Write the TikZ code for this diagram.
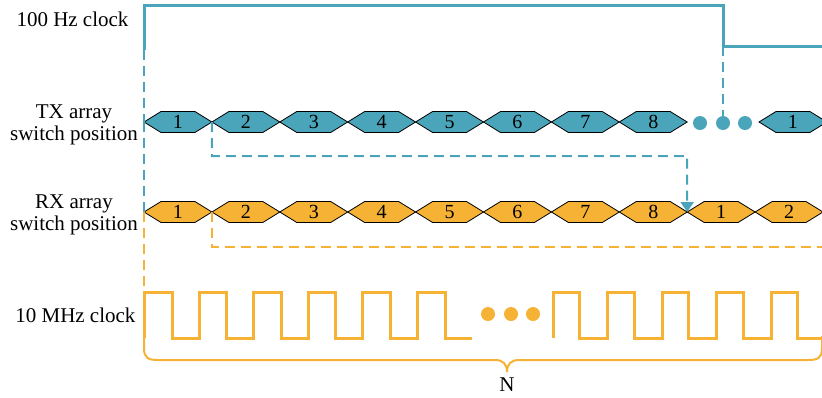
\documentclass[tikz,border=0pt]{standalone}
\usepackage{fontspec}
\setmainfont{Liberation Serif}
\usetikzlibrary{arrows.meta}

\definecolor{txblue}{RGB}{74,165,186}
\definecolor{rxorange}{RGB}{245,178,52}

\tikzset{
  sig/.style={line width=3pt, line join=miter},
  hexbox/.style={draw=black, line width=0.8pt},
  trace/.style={line width=2pt, dash pattern=on 10pt off 6pt},
  rowlabel/.style={font=\fontsize{21}{22}\selectfont, align=center},
  digit/.style={font=\fontsize{20}{24}\selectfont, inner sep=0pt}
}

\begin{document}
\begin{tikzpicture}[x=1pt, y=-1pt]
  \useasboundingbox (0, 0) rectangle (822, 397);

  % Row labels
  \node[rowlabel, anchor=east] (lclkslow) at (132, 19) {100 Hz clock};
  \node[rowlabel] (ltx) at (74, 124.5) {TX array\\switch position};
  \node[rowlabel] (lrx) at (74, 214.5) {RX array\\switch position};
  \node[rowlabel, anchor=east] (lclkfast) at (139, 315) {10 MHz clock};

  % 100 Hz clock
  \draw[sig, txblue] (144, 50) -- (144, 5) -- (723, 5) -- (723, 46) -- (822, 46);
  \coordinate (rise) at (144, 50);
  \coordinate (fall) at (723, 46);

  % TX array switch position
  \foreach \k in {1,...,8} {
    \draw[hexbox, fill=txblue] ({144+67.9*(\k-1)}, 122) -- ++(17, -10.5) -- ++(33.9, 0)
      -- ++(17, 10.5) -- ++(-17, 10.5) -- ++(-33.9, 0) -- cycle;
    \coordinate (tx\k) at ({144+67.9*(\k-1)}, 122);
    \node[digit] (txn\k) at ({144+67.9*(\k-1)+33.95}, 122) {\k};
  }
  \foreach \k/\x in {1/700, 2/723, 3/745}
    \fill[txblue] (\x, 123) circle (7pt) coordinate (txdot\k);
  \draw[hexbox, fill=txblue] (759, 122) -- ++(17, -10.5) -- ++(33.9, 0)
    -- ++(17, 10.5) -- ++(-17, 10.5) -- ++(-33.9, 0) -- cycle;
  \node[digit] (txnext) at (792.95, 122) {1};

  % RX array switch position
  \foreach \k/\lab in {1/1, 2/2, 3/3, 4/4, 5/5, 6/6, 7/7, 8/8, 9/1, 10/2} {
    \draw[hexbox, fill=rxorange] ({144+67.9*(\k-1)}, 212) -- ++(17, -10.5) -- ++(33.9, 0)
      -- ++(17, 10.5) -- ++(-17, 10.5) -- ++(-33.9, 0) -- cycle;
    \coordinate (rx\k) at ({144+67.9*(\k-1)}, 212);
    \node[digit] (rxn\k) at ({144+67.9*(\k-1)+33.95}, 212) {\lab};
  }

  % 10 MHz clock
  \draw[sig, rxorange] (144, 338) -- (144, 292) -- (172, 292)
    \foreach \k in {1,...,5} { -- ++(0, 46) -- ++(27, 0) -- ++(0, -46) -- ++(27.6, 0) }
    -- ++(0, 46) -- (472, 338);
  \coordinate (clkstart) at (144, 292);
  \draw[sig, rxorange] (553, 338) -- (553, 292)
    \foreach \k in {1,...,4} { -- ++(26.5, 0) -- ++(0, 46) -- ++(28.1, 0) -- ++(0, -46) }
    -- ++(26.5, 0) -- ++(0, 46) -- (822, 338);
  \foreach \k/\x in {1/488, 2/511, 3/533}
    \fill[rxorange] (\x, 314) circle (7pt) coordinate (clkdot\k);

  % Timing links
  \coordinate (txloop) at (687.2, 156);
  \coordinate (rxloop) at (822, 247);
  \draw[trace, txblue] (rise) -- (tx1);
  \draw[trace, txblue] (fall) -- (txdot2);
  \draw[trace, txblue] (tx1) -- (rx1);
  \draw[trace, txblue, -{Triangle[width=13pt, length=10pt]}] (tx2) |- (txloop) -- (rx9);
  \draw[trace, rxorange] (rx1) -- (clkstart);
  \draw[trace, rxorange] (rx2) |- (rxloop);

  % Brace over N periods
  \draw[rxorange, line width=2pt] (144, 338) -- (144, 348) .. controls (144, 358) and (148, 360) .. (158, 360)
    -- (495, 360) .. controls (503, 360) and (507, 364) .. (507, 372)
    .. controls (507, 364) and (511, 360) .. (519, 360)
    -- (808, 360) .. controls (818, 360) and (822, 358) .. (822, 348) -- (822, 336);
  \node[rowlabel] (nlabel) at (507, 385) {N};
\end{tikzpicture}
\end{document}
